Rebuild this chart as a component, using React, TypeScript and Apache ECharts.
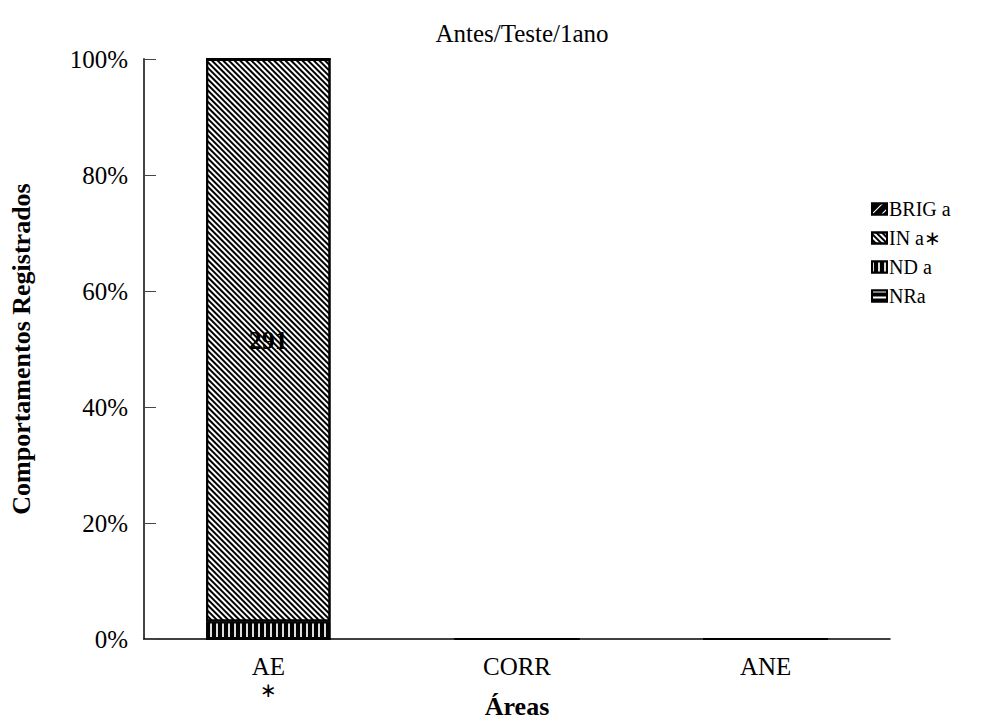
import React, { useEffect, useRef } from "react";
import * as echarts from "echarts";

const categories = ["AE", "CORR", "ANE"];
const brigCounts = [0, 0, 0];
const inCounts = [291, 0, 0];
const ndCounts = [9, 0, 0];
const nrCounts = [0, 0, 0];
const yTickValues = [0, 20, 40, 60, 80, 100];
const legendNames = ["BRIG a", "IN a∗", "ND a", "NRa"];
const title = "Antes/Teste/1ano";

const FONT = "'Liberation Serif', 'Times New Roman', serif";

export default function App() {
  const ref = useRef<HTMLDivElement>(null);
  useEffect(() => {
    if (!ref.current) return;
    const chart = echarts.init(ref.current, null, { renderer: "svg" });
    const totals = categories.map(
      (_, i) => brigCounts[i] + inCounts[i] + ndCounts[i] + nrCounts[i]
    );
    const pct = (arr: number[]) =>
      arr.map((v, i) => ({ value: totals[i] ? (v / totals[i]) * 100 : 0, count: v }));

    const border = { borderColor: "#000", borderWidth: 2 };
    const mk = (name: string, counts: number[], itemStyle: any, showLabel = false) => ({
      name,
      type: "bar",
      stack: "s",
      barWidth: "50%",
      data: pct(counts).map((d) => ({
        value: d.value,
        label: {
          show: showLabel && d.count > 0,
          formatter: String(d.count),
        },
      })),
      label: {
        position: "inside",
        fontFamily: FONT,
        fontWeight: "bold",
        fontSize: 26,
        color: "#000",
      },
      itemStyle: { ...border, ...itemStyle },
    });

    chart.setOption({
      animation: false,
      title: {
        text: title,
        left: 517,
        textAlign: "center",
        top: 16,
        textStyle: { fontFamily: FONT, fontSize: 25, fontWeight: "normal", color: "#000" },
      },
      legend: {
        data: legendNames,
        orient: "vertical",
        left: 866,
        top: 194,
        itemWidth: 15,
        itemHeight: 11,
        itemGap: 9,
        icon: "rect",
        textStyle: { fontFamily: FONT, fontSize: 20, color: "#000", padding: [0, 0, 0, -3] },
      },
      grid: { left: 144, right: 106, top: 59, bottom: 81, containLabel: false, outerBoundsMode: "none" },
      xAxis: {
        type: "category",
        data: categories,
        name: "Áreas",
        nameLocation: "middle",
        nameGap: 54,
        nameMoveOverlap: false,
        nameTextStyle: { fontFamily: FONT, fontSize: 26, fontWeight: "bold", color: "#000" },
        axisLine: { lineStyle: { color: "#000", width: 1.5 } },
        axisTick: { show: false },
        axisLabel: {
          fontFamily: FONT,
          fontSize: 25,
          color: "#000",
          margin: 14,
          lineHeight: 27,
          formatter: (v: string) => (v === "AE" ? v + "\n{star|∗}" : v),
          rich: { star: { fontFamily: "'DejaVu Sans'", fontSize: 20, color: "#000", lineHeight: 20 } },
        },
      },
      yAxis: {
        type: "value",
        min: 0,
        max: 100,
        interval: 20,
        name: "Comportamentos Registrados",
        nameLocation: "middle",
        nameGap: 110,
        nameMoveOverlap: false,
        nameTextStyle: { fontFamily: FONT, fontSize: 26, fontWeight: "bold", color: "#000" },
        axisLine: { show: true, lineStyle: { color: "#444", width: 2 } },
        axisTick: { show: true, inside: true, length: 12, lineStyle: { color: "#444", width: 1 } },
        splitLine: { show: false },
        axisLabel: {
          fontFamily: FONT,
          fontSize: 25,
          color: "#000",
          margin: 16,
          formatter: (v: number) => (yTickValues.includes(v) ? v + "%" : ""),
        },
      },
      series: [
        mk("NRa", nrCounts, {
          color: "#000",
          decal: { symbol: "rect", symbolSize: 1, color: "#fff", dashArrayX: [5, 0], dashArrayY: [1.5, 3.5] },
        }),
        mk("ND a", ndCounts, {
          color: "#000",
          decal: { symbol: "rect", symbolSize: 1, color: "#ddd", dashArrayX: [1.3, 3.4], dashArrayY: [5, 0] },
        }),
        mk(
          "IN a∗",
          inCounts,
          {
            color: "#fff",
            decal: {
              symbol: "rect",
              symbolSize: 1,
              color: "#000",
              dashArrayX: [5, 0],
              dashArrayY: [1.6, 2],
              rotation: Math.PI / 4,
            },
          },
          true
        ),
        mk("BRIG a", brigCounts, {
          color: "#000",
          decal: {
            symbol: "rect",
            symbolSize: 1,
            color: "#fff",
            dashArrayX: [5, 0],
            dashArrayY: [1, 6],
            rotation: -Math.PI / 4,
          },
        }),
      ],
    });
    return () => chart.dispose();
  }, []);
  return (
    <div
      ref={ref}
      style={{ position: "fixed", left: 0, top: 0, width: 996, height: 720, background: "#fff" }}
    />
  );
}
